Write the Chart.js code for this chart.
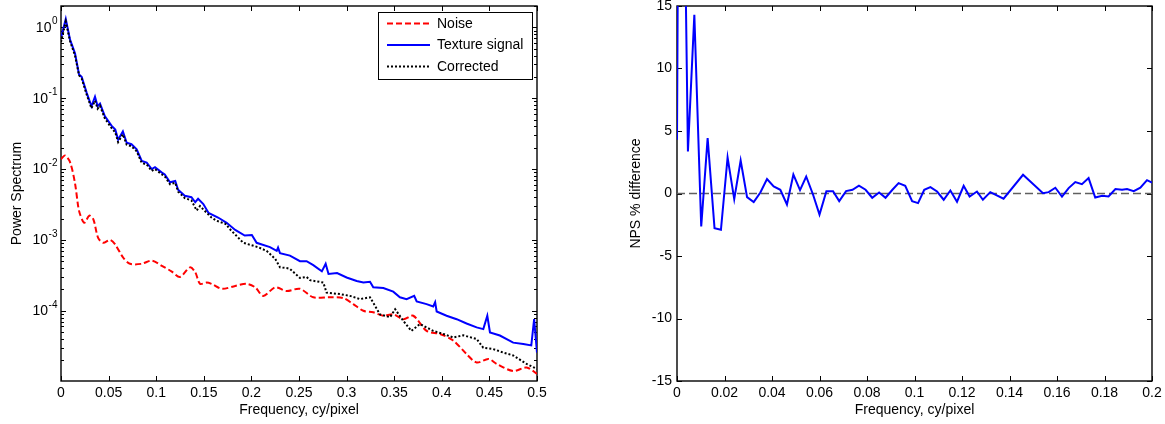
<!DOCTYPE html>
<html>
<head>
<meta charset="utf-8">
<script src="https://cdn.jsdelivr.net/npm/chart.js@4.4.0/dist/chart.umd.min.js"></script>
<style>
  html, body { margin: 0; padding: 0; background: #fff; }
  body { width: 1165px; height: 424px; position: relative; overflow: hidden; }
  #psWrap { position: absolute; left: 0; top: 0; width: 560px; height: 424px; }
  #npsWrap { position: absolute; left: 580px; top: 0; width: 585px; height: 424px; }
</style>
</head>
<body>
<div id="psWrap"><canvas id="psChart" width="560" height="424"></canvas></div>
<div id="npsWrap"><canvas id="npsChart" width="585" height="424"></canvas></div>
<script>
// ---- left panel: power spectra (log y) ----
const signalFreq = [0, 0.005, 0.0095, 0.0147, 0.019, 0.0217, 0.027, 0.032, 0.0357, 0.0385, 0.041, 0.046, 0.053, 0.057, 0.060, 0.065, 0.069, 0.074, 0.0795, 0.0848, 0.090, 0.0953, 0.0987, 0.106, 0.109, 0.1145, 0.12, 0.123, 0.130, 0.137, 0.141, 0.144, 0.1495, 0.155, 0.165, 0.174, 0.183, 0.193, 0.2005, 0.2055, 0.2195, 0.2266, 0.228, 0.230, 0.2405, 0.251, 0.258, 0.265, 0.274, 0.278, 0.281, 0.290, 0.300, 0.3106, 0.3176, 0.3246, 0.328, 0.3386, 0.349, 0.356, 0.363, 0.371, 0.3736, 0.384, 0.391, 0.393, 0.3946, 0.405, 0.4156, 0.426, 0.4366, 0.4436, 0.4478, 0.4506, 0.461, 0.475, 0.4856, 0.494, 0.497, 0.5];
const signalPower = [0.71, 1.31, 0.67, 0.43, 0.215, 0.20, 0.119, 0.077, 0.105, 0.077, 0.084, 0.056, 0.041, 0.036, 0.026, 0.034, 0.0235, 0.0224, 0.019, 0.013, 0.0123, 0.010, 0.0106, 0.0089, 0.0084, 0.0065, 0.0068, 0.0051, 0.0042, 0.0040, 0.0034, 0.0038, 0.0032, 0.0024, 0.00207, 0.00174, 0.00138, 0.00115, 0.00117, 0.00091, 0.00079, 0.0007, 0.00078, 0.00065, 0.0006, 0.0005, 0.0005, 0.00044, 0.00036, 0.00046, 0.00033, 0.00034, 0.000295, 0.000263, 0.00025, 0.000257, 0.000214, 0.000209, 0.000186, 0.000155, 0.000146, 0.000162, 0.000135, 0.000124, 0.000115, 0.000132, 0.0000977, 0.000085, 0.000076, 0.000066, 0.0000582, 0.000055, 0.000085, 0.0000495, 0.0000447, 0.0000355, 0.0000339, 0.0000324, 0.000076, 0.0000257];

const correctedFreq = [0, 0.005, 0.0095, 0.0147, 0.019, 0.0217, 0.027, 0.032, 0.0357, 0.0385, 0.041, 0.046, 0.053, 0.057, 0.060, 0.065, 0.069, 0.074, 0.0795, 0.0848, 0.090, 0.0953, 0.0987, 0.106, 0.109, 0.1145, 0.12, 0.123, 0.130, 0.137, 0.1425, 0.146, 0.158, 0.1635, 0.174, 0.176, 0.1915, 0.207, 0.216, 0.225, 0.230, 0.237, 0.2405, 0.251, 0.258, 0.2616, 0.2755, 0.279, 0.293, 0.3036, 0.314, 0.3246, 0.335, 0.3456, 0.351, 0.3596, 0.368, 0.377, 0.391, 0.4016, 0.412, 0.4226, 0.4366, 0.4436, 0.454, 0.4646, 0.475, 0.489, 0.5];
const correctedPower = [0.62, 1.2, 0.64, 0.40, 0.21, 0.19, 0.112, 0.072, 0.092, 0.071, 0.078, 0.052, 0.038, 0.033, 0.024, 0.031, 0.022, 0.021, 0.0178, 0.0122, 0.0116, 0.0094, 0.0100, 0.0084, 0.0079, 0.0061, 0.0064, 0.0048, 0.0039, 0.0036, 0.0026, 0.003, 0.00207, 0.00186, 0.00166, 0.00148, 0.00091, 0.00079, 0.0007, 0.00054, 0.00041, 0.0004, 0.00039, 0.00029, 0.0003, 0.00027, 0.00025, 0.00018, 0.000172, 0.000162, 0.000146, 0.000155, 0.000089, 0.000081, 0.000105, 0.000072, 0.000052, 0.000065, 0.000052, 0.000047, 0.000042, 0.000045, 0.00004, 0.00003, 0.0000288, 0.0000257, 0.0000234, 0.0000178, 0.0000151];

const noiseFreq = [0, 0.0042, 0.0095, 0.0147, 0.018, 0.020, 0.0245, 0.0297, 0.034, 0.039, 0.0444, 0.0515, 0.0567, 0.0654, 0.0725, 0.0848, 0.0953, 0.106, 0.116, 0.125, 0.1355, 0.141, 0.146, 0.153, 0.158, 0.169, 0.183, 0.195, 0.204, 0.2125, 0.225, 0.237, 0.251, 0.265, 0.2826, 0.2965, 0.307, 0.3176, 0.328, 0.3386, 0.349, 0.3596, 0.370, 0.384, 0.398, 0.412, 0.426, 0.4366, 0.449, 0.4576, 0.475, 0.489, 0.5];
const noisePower = [0.0138, 0.0155, 0.0125, 0.0063, 0.003, 0.0023, 0.00174, 0.0022, 0.00195, 0.00107, 0.00091, 0.001, 0.00087, 0.00056, 0.00046, 0.00046, 0.00051, 0.00043, 0.00036, 0.0003, 0.00041, 0.00035, 0.00024, 0.00025, 0.00024, 0.000204, 0.000224, 0.00024, 0.000214, 0.000162, 0.000214, 0.00019, 0.000204, 0.000155, 0.000155, 0.000151, 0.000124, 0.0001, 0.000095, 0.000085, 0.000089, 0.000076, 0.000085, 0.000052, 0.000047, 0.000038, 0.0000245, 0.0000186, 0.0000209, 0.0000178, 0.0000141, 0.0000158, 0.0000129];

const psXTicks = [0, 0.05, 0.1, 0.15, 0.2, 0.25, 0.3, 0.35, 0.4, 0.45, 0.5];
const psDecades = [1e-4, 1e-3, 1e-2, 1e-1, 1];

// ---- right panel: NPS % difference ----
const npsFreq = [0, 0.0012, 0.0046, 0.0073, 0.0102, 0.0129, 0.0158, 0.0185, 0.0213, 0.0241, 0.0268, 0.0295, 0.0323, 0.0351, 0.0379, 0.0407, 0.0435, 0.0463, 0.0490, 0.0518, 0.0544, 0.0573, 0.0600, 0.0629, 0.0657, 0.0683, 0.0712, 0.0739, 0.0766, 0.0794, 0.0822, 0.0851, 0.0878, 0.0907, 0.0933, 0.0961, 0.0990, 0.1015, 0.1041, 0.1067, 0.1095, 0.1123, 0.1151, 0.1179, 0.1207, 0.1232, 0.1263, 0.1288, 0.1319, 0.1375, 0.1457, 0.1541, 0.1565, 0.1593, 0.1621, 0.1649, 0.1677, 0.1705, 0.1733, 0.1761, 0.1790, 0.1817, 0.1846, 0.1874, 0.1895, 0.1923, 0.1951, 0.1979, 0.2000];
const npsDiff = [4.3, 51, 3.36, 14.3, -2.64, 4.43, -2.77, -2.9, 2.88, -0.45, 2.64, -0.29, -0.69, 0.08, 1.15, 0.56, 0.3, -0.88, 1.52, 0.27, 1.36, -0.1, -1.68, 0.19, 0.19, -0.61, 0.19, 0.3, 0.62, 0.3, -0.34, 0.08, -0.34, 0.3, 0.83, 0.62, -0.61, -0.77, 0.3, 0.51, 0.16, -0.5, 0.24, -0.66, 0.62, -0.24, 0.16, -0.5, 0.11, -0.42, 1.5, 0.03, 0.11, 0.46, -0.24, 0.43, 0.91, 0.75, 1.23, -0.32, -0.18, -0.24, 0.35, 0.30, 0.35, 0.19, 0.46, 1.07, 0.88];
const zeroLineX = [0, 0.2];
const zeroLineY = [0, 0];

const npsXTicks = [0, 0.02, 0.04, 0.06, 0.08, 0.1, 0.12, 0.14, 0.16, 0.18, 0.2];
const npsYTicks = [-15, -10, -5, 0, 5, 10, 15];

const FONT = "'Liberation Sans', Arial, sans-serif";

const pairs = (xs, ys) => xs.map((x, i) => ({ x: x, y: ys[i] }));
const fmt = v => String(+v.toFixed(2));

// fixed axis sizes, no extra padding for edge labels
const fixX = h => s => { s.height = h; s.paddingLeft = 0; s.paddingRight = 0; };
const fixY = w => s => { s.width = w; s.paddingTop = 0; s.paddingBottom = 0; };

// box + inward tick marks like matlab axes
const axesBox = {
  id: "axesBox",
  beforeDatasetsDraw(chart, args, opts) {
    const { ctx, chartArea: a } = chart;
    const xs = chart.scales.x, ys = chart.scales.y;
    ctx.save();
    ctx.strokeStyle = "#000";
    ctx.lineWidth = 1;
    ctx.beginPath();
    opts.xTicks.forEach(v => {
      const p = Math.round(xs.getPixelForValue(v)) + 0.5;
      ctx.moveTo(p, a.bottom); ctx.lineTo(p, a.bottom - 5);
      ctx.moveTo(p, a.top); ctx.lineTo(p, a.top + 5);
    });
    opts.yTicks.forEach(t => {
      const p = Math.round(ys.getPixelForValue(t.v)) + 0.5;
      ctx.moveTo(a.left, p); ctx.lineTo(a.left + t.len, p);
      ctx.moveTo(a.right, p); ctx.lineTo(a.right - t.len, p);
    });
    ctx.stroke();
    ctx.lineWidth = 1.4;
    ctx.strokeRect(a.left, a.top, a.right - a.left, a.bottom - a.top);
    ctx.restore();
  }
};

// 10^n labels for the log axis
const logLabels = {
  id: "logLabels",
  afterDraw(chart) {
    const { ctx, chartArea: a } = chart;
    const ys = chart.scales.y;
    ctx.save();
    ctx.fillStyle = "#000";
    ctx.textAlign = "right";
    ctx.textBaseline = "middle";
    psDecades.forEach(d => {
      const y = ys.getPixelForValue(d);
      const e = String(Math.round(Math.log10(d)));
      const right = a.left - 3.5;
      ctx.font = "10px " + FONT;
      const w = ctx.measureText(e).width;
      ctx.fillText(e, right, y - 6);
      ctx.font = "14px " + FONT;
      ctx.fillText("10", right - w - 0.5, y + 0.5);
    });
    ctx.restore();
  }
};

// boxed legend in the upper right corner
const boxLegend = {
  id: "boxLegend",
  afterDatasetsDraw(chart, args, opts) {
    const { ctx } = chart;
    const b = opts.box;
    ctx.save();
    ctx.fillStyle = "#fff";
    ctx.fillRect(b.x, b.y, b.w, b.h);
    ctx.strokeStyle = "#000";
    ctx.lineWidth = 1;
    ctx.strokeRect(b.x + 0.5, b.y + 0.5, b.w, b.h);
    opts.order.forEach((idx, row) => {
      const ds = chart.data.datasets[idx];
      const y = b.y + 11.5 + row * 21.5;
      ctx.beginPath();
      ctx.strokeStyle = ds.borderColor;
      ctx.lineWidth = ds.borderWidth;
      ctx.setLineDash(ds.borderDash || []);
      ctx.moveTo(b.x + 9, y);
      ctx.lineTo(b.x + 52, y);
      ctx.stroke();
      ctx.setLineDash([]);
      ctx.fillStyle = "#000";
      ctx.font = "14px " + FONT;
      ctx.textAlign = "left";
      ctx.textBaseline = "middle";
      ctx.fillText(ds.label, b.x + 59, y + 0.5);
    });
    ctx.restore();
  }
};

const logTicks = [];
for (let e = -5; e <= 0; e++) {
  for (let m = 1; m <= 9; m++) {
    const v = m * Math.pow(10, e);
    if (v >= 1.02e-5 && v <= 2) logTicks.push({ v: v, len: m === 1 ? 5 : 3 });
  }
}

const tickFont = { family: FONT, size: 14 };

new Chart(document.getElementById("psChart"), {
  type: "line",
  data: {
    datasets: [
      { label: "Noise", data: pairs(noiseFreq, noisePower), borderColor: "#ff0000", borderWidth: 2, borderDash: [6, 3], tension: 0.3, order: 2 },
      { label: "Texture signal", data: pairs(signalFreq, signalPower), borderColor: "#0000ff", borderWidth: 2, order: 1 },
      { label: "Corrected", data: pairs(correctedFreq, correctedPower), borderColor: "#000000", borderWidth: 2, borderDash: [2, 2], order: 0 }
    ]
  },
  options: {
    responsive: false,
    animation: false,
    devicePixelRatio: 1,
    layout: { padding: { top: 6, right: 23, left: 0, bottom: 0 } },
    elements: { point: { radius: 0 } },
    plugins: {
      legend: { display: false },
      tooltip: { enabled: false },
      axesBox: { xTicks: psXTicks, yTicks: logTicks },
      boxLegend: { box: { x: 378, y: 12, w: 154, h: 67 }, order: [0, 1, 2] }
    },
    scales: {
      x: {
        type: "linear", min: 0, max: 0.5,
        afterBuildTicks: s => { s.ticks = psXTicks.map(v => ({ value: v })); },
        afterFit: fixX(43),
        grid: { display: false, drawTicks: false },
        border: { display: false },
        ticks: { font: tickFont, color: "#000", padding: 4, maxRotation: 0, callback: fmt },
        title: { display: true, text: "Frequency, cy/pixel", font: tickFont, color: "#000", padding: { top: 0, bottom: 5 } }
      },
      y: {
        type: "logarithmic", min: 1.02e-5, max: 2,
        afterFit: fixY(61),
        grid: { display: false, drawTicks: false },
        border: { display: false },
        ticks: { display: false },
        title: { display: true, text: "Power Spectrum", font: tickFont, color: "#000", padding: { top: 9, bottom: 0 } }
      }
    }
  },
  plugins: [axesBox, logLabels, boxLegend]
});

new Chart(document.getElementById("npsChart"), {
  type: "line",
  data: {
    datasets: [
      { label: "NPS difference", data: pairs(npsFreq, npsDiff), borderColor: "#0000ff", borderWidth: 2, order: 0 },
      { label: "zero", data: pairs(zeroLineX, zeroLineY), borderColor: "#606060", borderWidth: 1.3, borderDash: [8, 4], order: 1 }
    ]
  },
  options: {
    responsive: false,
    animation: false,
    devicePixelRatio: 1,
    layout: { padding: { top: 6, right: 13, left: 0, bottom: 0 } },
    elements: { point: { radius: 0 } },
    plugins: {
      legend: { display: false },
      tooltip: { enabled: false },
      axesBox: { xTicks: npsXTicks, yTicks: npsYTicks.map(v => ({ v: v, len: 5 })) }
    },
    scales: {
      x: {
        type: "linear", min: 0, max: 0.2,
        afterBuildTicks: s => { s.ticks = npsXTicks.map(v => ({ value: v })); },
        afterFit: fixX(43),
        grid: { display: false, drawTicks: false },
        border: { display: false },
        ticks: { font: tickFont, color: "#000", padding: 4, maxRotation: 0, callback: fmt },
        title: { display: true, text: "Frequency, cy/pixel", font: tickFont, color: "#000", padding: { top: 0, bottom: 5 } }
      },
      y: {
        type: "linear", min: -15, max: 15,
        afterBuildTicks: s => { s.ticks = npsYTicks.map(v => ({ value: v })); },
        afterFit: fixY(97),
        grid: { display: false, drawTicks: false },
        border: { display: false },
        ticks: { font: tickFont, color: "#000", padding: 5, callback: v => String(v) },
        title: { display: true, text: "NPS % difference", font: tickFont, color: "#000", padding: { top: 48, bottom: 0 } }
      }
    }
  },
  plugins: [axesBox]
});
</script>
</body>
</html>
